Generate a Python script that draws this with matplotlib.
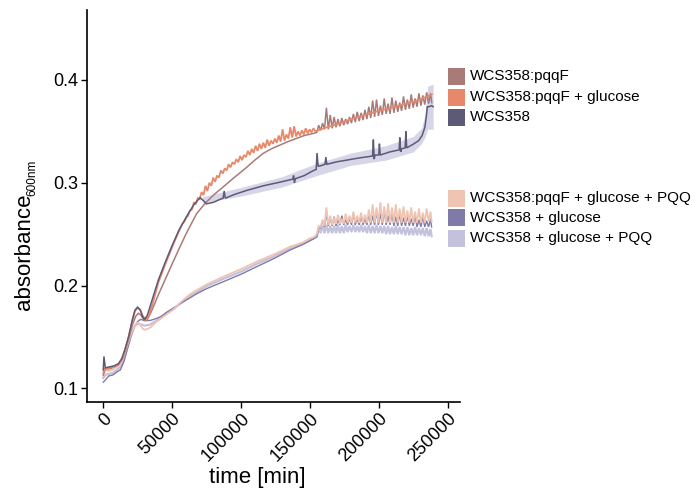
import numpy as np
import matplotlib
matplotlib.use('Agg')
import matplotlib.pyplot as plt
from matplotlib.patches import Rectangle

plt.rcParams['font.family'] = ['Liberation Sans', 'DejaVu Sans']

W, H = 695, 497

labels = ['WCS358:pqqF', 'WCS358:pqqF + glucose', 'WCS358',
          'WCS358:pqqF + glucose + PQQ', 'WCS358 + glucose', 'WCS358 + glucose + PQQ']
colors = ['#a87b78', '#e8886a', '#5d5a78', '#efc4b2', '#7f7aa8', '#c3c1dc']

x_ticks = [0, 50000, 100000, 150000, 200000, 250000]
y_ticks = [0.1, 0.2, 0.3, 0.4]

SPIKE_STEP = 2800  # reading interval of the oscillating sections (trough, peak)

# ---- WCS358:pqqF ----
t_pqqF = [0, 1500, 5000, 8000, 11000, 13500, 16000, 18500, 21000, 23500, 25500, 27500, 29500,
          31500, 34000, 36300, 40000, 44800, 50000, 55700, 60000, 63500, 67800, 74000, 80000,
          87100, 95000, 104100, 110000, 116100, 122000, 128300, 134000, 140400, 146000, 152500, 238500]
y_pqqF = [0.113, 0.119, 0.119, 0.121, 0.123, 0.128, 0.137, 0.148, 0.161, 0.170, 0.173, 0.171, 0.166,
          0.166, 0.172, 0.179, 0.191, 0.2054, 0.221, 0.2377, 0.250, 0.259, 0.270, 0.280, 0.288,
          0.296, 0.305, 0.315, 0.322, 0.3286, 0.333, 0.3367, 0.340, 0.3432, 0.346, 0.348, 0.378]
spk_pqqF_start = 155000
spk_pqqF = [(0.349, 0.356), (0.351, 0.358), (0.352, 0.373), (0.352, 0.366), (0.353, 0.364),
            (0.354, 0.362), (0.355, 0.363), (0.356, 0.362), (0.357, 0.364), (0.358, 0.367),
            (0.359, 0.369), (0.360, 0.368), (0.361, 0.371), (0.362, 0.374), (0.363, 0.380),
            (0.364, 0.381), (0.365, 0.375), (0.366, 0.382), (0.367, 0.377), (0.367, 0.383),
            (0.368, 0.380), (0.369, 0.378), (0.370, 0.384), (0.371, 0.381), (0.372, 0.386),
            (0.373, 0.382), (0.374, 0.387), (0.375, 0.385), (0.376, 0.388), (0.377, 0.387)]

# ---- WCS358:pqqF + glucose ----
t_pqqFglc = [0, 1000, 5000, 8000, 11000, 13500, 16000, 18500, 21000, 23000, 24500, 26500, 28500,
             30500, 33000, 36000, 40000, 44800, 49600, 53000, 154000, 160000, 170000, 180000,
             190000, 200000, 210000, 220000, 230000, 238500]
y_pqqFglc = [0.115, 0.119, 0.120, 0.121, 0.123, 0.128, 0.138, 0.150, 0.165, 0.175, 0.178, 0.177, 0.171,
             0.167, 0.170, 0.183, 0.203, 0.220, 0.236, 0.247, 0.350, 0.353, 0.357, 0.362,
             0.366, 0.370, 0.373, 0.377, 0.381, 0.386]
spk_pqqFglc_start = 56000
spk_pqqFglc = [(0.256, 0.260), (0.262, 0.266), (0.268, 0.273), (0.274, 0.281), (0.279, 0.285),
               (0.284, 0.291), (0.288, 0.297), (0.292, 0.300), (0.297, 0.305), (0.301, 0.307),
               (0.305, 0.312), (0.309, 0.314), (0.312, 0.318), (0.315, 0.320), (0.318, 0.323),
               (0.320, 0.326), (0.322, 0.327), (0.325, 0.331), (0.327, 0.333), (0.329, 0.336),
               (0.331, 0.338), (0.333, 0.339), (0.334, 0.342), (0.336, 0.341), (0.338, 0.343),
               (0.339, 0.346), (0.340, 0.352), (0.341, 0.347), (0.343, 0.354), (0.344, 0.355),
               (0.345, 0.350), (0.346, 0.351), (0.347, 0.353), (0.348, 0.352), (0.349, 0.353)]

# ---- WCS358 ----
t_wcs = [0, 500, 1500, 5000, 8000, 11000, 13500, 16000, 18500, 21000, 23000, 25000, 27000, 28500,
         30000, 32000, 35000, 40000, 44800, 49600, 55000, 61700, 66000, 70200, 72000, 75000, 80000,
         85000, 87000, 87800, 88600, 95000, 104000, 116000, 128000, 137500, 138200, 138800, 139500,
         146000, 152000, 154600, 155200, 156000, 159000, 161000, 161600, 162300, 170000, 176600,
         185000, 195500, 196100, 196700, 197300, 200000, 200500, 201100, 208000, 214800, 215300,
         215900, 216500, 219200, 219700, 220300, 225000, 229000, 231500, 233500, 234500, 235300,
         236500, 238400, 239500]
y_wcs = [0.118, 0.131, 0.120, 0.121, 0.122, 0.124, 0.129, 0.139, 0.151, 0.166, 0.176, 0.179, 0.176, 0.170,
         0.167, 0.171, 0.184, 0.2054, 0.222, 0.2377, 0.254, 0.270, 0.279, 0.2855, 0.2835, 0.2795, 0.281,
         0.284, 0.285, 0.292, 0.285, 0.2885, 0.2925, 0.297, 0.3005, 0.3035, 0.307, 0.300, 0.304,
         0.307, 0.3115, 0.313, 0.329, 0.316, 0.317, 0.318, 0.325, 0.318, 0.3205, 0.322,
         0.324, 0.326, 0.342, 0.323, 0.327, 0.327, 0.338, 0.327, 0.330, 0.332, 0.344,
         0.330, 0.333, 0.334, 0.350, 0.334, 0.3375, 0.341, 0.346, 0.354, 0.364, 0.374,
         0.374, 0.375, 0.374]
t_wcs_band = [72000, 100000, 130000, 155000, 180000, 205000, 225000, 231000, 233500, 235500, 239500]
lo_wcs_band = [0.2805, 0.2870, 0.296, 0.307, 0.317, 0.322, 0.330, 0.338, 0.344, 0.352, 0.352]
hi_wcs_band = [0.2865, 0.2955, 0.306, 0.319, 0.329, 0.336, 0.345, 0.353, 0.366, 0.394, 0.396]

# ---- WCS358:pqqF + glucose + PQQ ----
t_pqqFglcPQQ = [0, 1500, 4000, 7000, 10000, 12500, 15000, 17500, 20000, 22500, 24500, 26500, 28500,
                30500, 34000, 38700, 42000, 46000, 50800, 56000, 62900, 67800, 75000, 87100, 100000,
                111300, 125000, 135500, 145000, 150000, 153500, 238400]
y_pqqFglcPQQ = [0.112, 0.118, 0.117, 0.118, 0.121, 0.124, 0.132, 0.142, 0.152, 0.160, 0.164, 0.163, 0.158,
                0.157, 0.159, 0.1648, 0.168, 0.172, 0.1765, 0.1835, 0.1915, 0.1955, 0.201, 0.2086, 0.216,
                0.2232, 0.231, 0.2377, 0.242, 0.2459, 0.2475, 0.262]
spk_pqqFglcPQQ_start = 155000
spk_pqqFglcPQQ = [(0.250, 0.258), (0.257, 0.264), (0.258, 0.276), (0.259, 0.268), (0.259, 0.266),
                  (0.260, 0.269), (0.260, 0.265), (0.260, 0.270), (0.261, 0.268), (0.261, 0.272),
                  (0.261, 0.268), (0.261, 0.271), (0.261, 0.269), (0.261, 0.274), (0.261, 0.279),
                  (0.261, 0.276), (0.261, 0.281), (0.261, 0.277), (0.261, 0.280), (0.261, 0.276),
                  (0.261, 0.279), (0.261, 0.275), (0.261, 0.277), (0.261, 0.273), (0.261, 0.276),
                  (0.261, 0.272), (0.261, 0.275), (0.261, 0.271), (0.261, 0.275), (0.262, 0.272)]

# ---- WCS358 + glucose ----
t_wcsglc = [0, 1500, 4000, 7000, 10000, 12500, 15000, 17500, 20000, 22500, 25000, 27000, 30000, 34000,
            38700, 42000, 46000, 50800, 56000, 62900, 67800, 75000, 87100, 100000, 111300, 125000,
            135500, 145000, 150000, 153500, 238400]
y_wcsglc = [0.106, 0.108, 0.112, 0.113, 0.116, 0.118, 0.126, 0.138, 0.150, 0.160, 0.165, 0.167, 0.166, 0.166,
            0.168, 0.170, 0.174, 0.178, 0.1825, 0.188, 0.192, 0.197, 0.2037, 0.211, 0.2183, 0.227,
            0.2345, 0.240, 0.2435, 0.246, 0.257]
spk_wcsglc_start = 155000
spk_wcsglc = [(0.248, 0.256), (0.256, 0.263), (0.257, 0.270), (0.258, 0.266), (0.258, 0.267),
              (0.258, 0.264), (0.259, 0.268), (0.259, 0.264), (0.259, 0.266), (0.259, 0.270),
              (0.259, 0.265), (0.259, 0.268), (0.259, 0.265), (0.259, 0.270), (0.259, 0.268),
              (0.259, 0.272), (0.259, 0.270), (0.259, 0.273), (0.259, 0.268), (0.259, 0.271),
              (0.258, 0.267), (0.258, 0.270), (0.258, 0.266), (0.258, 0.268), (0.258, 0.265),
              (0.258, 0.268), (0.257, 0.264), (0.257, 0.267), (0.257, 0.263), (0.257, 0.265)]

# ---- WCS358 + glucose + PQQ ----
t_wcsglcPQQ = [0, 1500, 4000, 7000, 10000, 12500, 15000, 17500, 20000, 22500, 25000, 27500, 30000, 34000,
               38700, 42000, 46000, 50800, 56000, 62900, 67800, 75000, 87100, 100000, 111300, 125000,
               135500, 145000, 150000, 153500, 238400]
y_wcsglcPQQ = [0.110, 0.113, 0.114, 0.115, 0.118, 0.121, 0.129, 0.140, 0.151, 0.160, 0.163, 0.162, 0.161, 0.162,
               0.166, 0.169, 0.173, 0.177, 0.1825, 0.190, 0.1935, 0.1995, 0.2065, 0.2135, 0.221, 0.229,
               0.236, 0.241, 0.2445, 0.2465, 0.248]
spk_wcsglcPQQ_start = 155000
spk_wcsglcPQQ = [(0.247, 0.254), (0.252, 0.258), (0.251, 0.259), (0.251, 0.258), (0.251, 0.258),
                 (0.251, 0.259), (0.251, 0.258), (0.251, 0.259), (0.252, 0.258), (0.252, 0.259),
                 (0.252, 0.258), (0.252, 0.259), (0.252, 0.258), (0.251, 0.259), (0.251, 0.258),
                 (0.251, 0.259), (0.251, 0.258), (0.251, 0.258), (0.250, 0.258), (0.250, 0.257),
                 (0.250, 0.258), (0.250, 0.257), (0.250, 0.257), (0.249, 0.257), (0.249, 0.256),
                 (0.249, 0.257), (0.249, 0.256), (0.249, 0.256), (0.248, 0.256), (0.248, 0.255)]


def assemble(t_s, y_s, start=None, pairs=None):
    t = list(t_s)
    y = list(y_s)
    if pairs is not None:
        for i, (lo, hi) in enumerate(pairs):
            t0 = start + SPIKE_STEP * i
            t += [t0, t0 + SPIKE_STEP / 2]
            y += [lo, hi]
    order = np.argsort(t, kind='stable')
    return np.asarray(t)[order], np.asarray(y)[order]


series = [
    assemble(t_pqqF, y_pqqF, spk_pqqF_start, spk_pqqF),
    assemble(t_pqqFglc, y_pqqFglc, spk_pqqFglc_start, spk_pqqFglc),
    assemble(t_wcs, y_wcs),
    assemble(t_pqqFglcPQQ, y_pqqFglcPQQ, spk_pqqFglcPQQ_start, spk_pqqFglcPQQ),
    assemble(t_wcsglc, y_wcsglc, spk_wcsglc_start, spk_wcsglc),
    assemble(t_wcsglcPQQ, y_wcsglcPQQ, spk_wcsglcPQQ_start, spk_wcsglcPQQ),
]

fig = plt.figure(figsize=(W / 100, H / 100), dpi=100)
ax = fig.add_axes([87 / W, 1 - 402 / H, (460 - 87) / W, (402 - 10) / H])

ax.fill_between(t_wcs_band, lo_wcs_band, hi_wcs_band, color='#cfcfe4', alpha=0.85, lw=0, zorder=1)

draw_order = [5, 4, 3, 0, 1, 2]
widths = {0: 1.1, 1: 1.3, 2: 1.1, 3: 1.3, 4: 1.0, 5: 1.6}
z = {5: 2, 4: 3, 3: 4, 0: 5, 1: 6, 2: 7}
for i in draw_order:
    t, y = series[i]
    ax.plot(t, y, color=colors[i], lw=widths[i], zorder=z[i], solid_joinstyle='miter')

ax.set_xlim(-11800, 259000)
ax.set_ylim(0.0867, 0.4681)
ax.set_xticks(x_ticks)
ax.set_xticklabels([str(v) for v in x_ticks], rotation=45, ha='right', va='top',
                   rotation_mode='anchor', fontsize=13)
ax.set_yticks(y_ticks)
ax.set_yticklabels([f'{v:.1f}' for v in y_ticks], fontsize=13)
for s in ['top', 'right']:
    ax.spines[s].set_visible(False)
for s in ['left', 'bottom']:
    ax.spines[s].set_linewidth(1.2)
ax.tick_params(axis='both', direction='out', length=4, width=1.0, pad=2, colors='black')

# axis titles
fig.text(257 / W, 1 - 478 / H, 'time [min]', ha='center', va='center', fontsize=16)
fig.text(30 / W, 1 - 310 / H, 'absorbance', rotation=90, rotation_mode='anchor',
         ha='left', va='baseline', fontsize=16)
fig.text(35 / W, 1 - 196 / H, '600nm', rotation=90, rotation_mode='anchor',
         ha='left', va='baseline', fontsize=8.5)

# legend
yc = [76, 97, 117.5, 198, 218, 238]
for i in range(6):
    fig.add_artist(Rectangle((448 / W, 1 - (yc[i] + 8.5) / H), 17 / W, 17 / H,
                             transform=fig.transFigure, facecolor=colors[i], edgecolor='none'))
    fig.text(470 / W, 1 - yc[i] / H, labels[i], ha='left', va='center', fontsize=11)

fig.savefig('out.png', dpi=100)
